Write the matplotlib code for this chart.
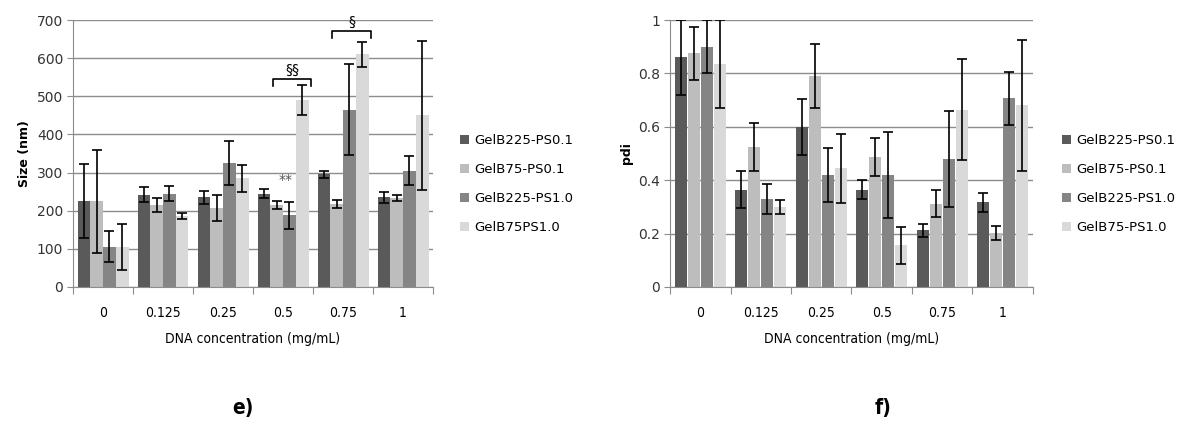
import matplotlib.pyplot as plt
import numpy as np
from matplotlib.patches import Patch

# data
conc = ["0", "0.125", "0.25", "0.5", "0.75", "1"]

size_labels = ["GelB225-PS0.1", "GelB75-PS0.1", "GelB225-PS1.0", "GelB75PS1.0"]
pdi_labels = ["GelB225-PS0.1", "GelB75-PS0.1", "GelB225-PS1.0", "GelB75-PS1.0"]

size_b225_01 = [225, 242, 235, 245, 295, 235]
size_b75_01 = [225, 215, 208, 215, 218, 233]
size_b225_10 = [106, 245, 325, 188, 465, 305]
size_b75_10 = [105, 185, 285, 490, 610, 450]

size_err_b225_01 = [97, 20, 17, 12, 8, 15]
size_err_b75_01 = [135, 19, 34, 11, 11, 7]
size_err_b225_10 = [40, 20, 57, 36, 120, 38]
size_err_b75_10 = [60, 8, 35, 39, 33, 195]

pdi_b225_01 = [0.86, 0.365, 0.60, 0.365, 0.212, 0.317]
pdi_b75_01 = [0.875, 0.526, 0.79, 0.487, 0.312, 0.202]
pdi_b225_10 = [0.90, 0.33, 0.42, 0.42, 0.478, 0.706]
pdi_b75_10 = [0.834, 0.30, 0.444, 0.156, 0.664, 0.68]

pdi_err_b225_01 = [0.14, 0.07, 0.105, 0.035, 0.025, 0.035]
pdi_err_b75_01 = [0.10, 0.09, 0.12, 0.07, 0.05, 0.025]
pdi_err_b225_10 = [0.10, 0.055, 0.10, 0.16, 0.18, 0.10]
pdi_err_b75_10 = [0.165, 0.025, 0.13, 0.068, 0.19, 0.245]

colors = ["#5a5a5a", "#bdbdbd", "#858585", "#d9d9d9"]
cond = dict(family="DejaVu Sans", fontstretch="condensed")

fig = plt.figure(figsize=(11.79, 4.23), dpi=100)
ax1 = fig.add_axes([73 / 1179, 1 - 287 / 423, 360 / 1179, 267 / 423])
ax2 = fig.add_axes([670 / 1179, 1 - 287 / 423, 363 / 1179, 267 / 423])


def draw(ax, series, errs, labels, ymax, ystep, ylabel, yfmt, leg_x):
    x = np.arange(len(conc))
    w = 0.205
    for i, (vals, err) in enumerate(zip(series, errs)):
        ax.bar(x + (i - 1.5) * 0.215, vals, w, color=colors[i], zorder=2,
               yerr=err, capsize=3.5,
               error_kw=dict(ecolor="black", elinewidth=1.2, capthick=1.2, zorder=3))
    ax.set_xlim(-0.5, len(conc) - 0.5)
    ax.set_ylim(0, ymax)
    ticks = np.arange(0, ymax + ystep / 2, ystep)
    ax.set_yticks(ticks)
    ax.set_yticklabels([yfmt(v) for v in ticks], fontsize=10, color="#333333")
    ax.yaxis.grid(True, color="#8c8c8c", linewidth=1)
    ax.set_axisbelow(True)
    for s in ["top", "right"]:
        ax.spines[s].set_visible(False)
    ax.spines["left"].set_color("#8c8c8c")
    ax.spines["bottom"].set_color("#8c8c8c")
    ax.tick_params(axis="y", length=4, color="#8c8c8c", pad=3)
    ax.set_xticks(np.arange(-0.5, len(conc)))
    ax.set_xticklabels([])
    ax.tick_params(axis="x", length=5, color="#8c8c8c")
    ax.set_xticks(x, minor=True)
    ax.set_xticklabels(conc, minor=True, fontsize=10, **cond)
    ax.tick_params(axis="x", which="minor", length=0, pad=14)
    ax.set_xlabel("DNA concentration (mg/mL)", fontsize=10, labelpad=8, **cond)
    ax.set_ylabel(ylabel, fontsize=9, fontweight="bold", labelpad=4)
    handles = [Patch(facecolor=c, label=l) for c, l in zip(colors, labels)]
    fig.legend(handles=handles, loc="center left", bbox_to_anchor=(leg_x, 1 - 184 / 423),
               frameon=False, handlelength=0.7, handleheight=0.7,
               labelspacing=1.2, handletextpad=0.4, borderaxespad=0, borderpad=0,
               prop=dict(size=9.5))


draw(ax1, [size_b225_01, size_b75_01, size_b225_10, size_b75_10],
     [size_err_b225_01, size_err_b75_01, size_err_b225_10, size_err_b75_10],
     size_labels, 700, 100, "Size (nm)", lambda v: f"{int(round(v))}", 460 / 1179)
draw(ax2, [pdi_b225_01, pdi_b75_01, pdi_b225_10, pdi_b75_10],
     [pdi_err_b225_01, pdi_err_b75_01, pdi_err_b225_10, pdi_err_b75_10],
     pdi_labels, 1.0, 0.2, "pdi", lambda v: f"{v:g}" if v > 0 else "0", 1062 / 1179)

# significance marks on the size chart
ax1.plot([3 - 0.17, 3 - 0.17, 3 + 0.47, 3 + 0.47], [527, 545, 545, 527],
         color="black", linewidth=1.2, clip_on=False, zorder=4)
ax1.text(3 + 0.15, 552, "§§", ha="center", va="bottom", fontsize=10)
ax1.plot([4 - 0.18, 4 - 0.18, 4 + 0.46, 4 + 0.46], [652, 670, 670, 652],
         color="black", linewidth=1.2, clip_on=False, zorder=4)
ax1.text(4 + 0.14, 677, "§", ha="center", va="bottom", fontsize=10)
ax1.text(3 + 0.05, 262, "**", ha="center", va="bottom", fontsize=10, color="#555555")

fig.text(243 / 1179, 1 - 408 / 423, "e)", ha="center", va="center",
         fontsize=15, fontweight="bold", **cond)
fig.text(883 / 1179, 1 - 408 / 423, "f)", ha="center", va="center",
         fontsize=15, fontweight="bold", **cond)

fig.savefig("out.png", dpi=100)
